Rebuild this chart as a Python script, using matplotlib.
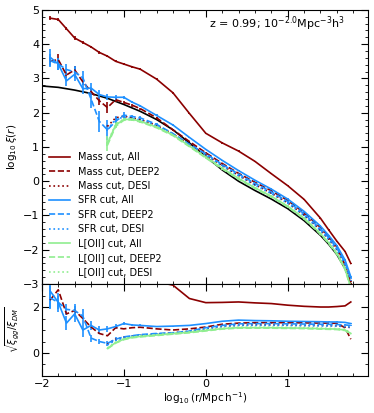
import numpy as np
import matplotlib
matplotlib.use("Agg")
import matplotlib.pyplot as plt
from matplotlib.lines import Line2D
from matplotlib.ticker import AutoMinorLocator, MultipleLocator

nan = np.nan

# matter correlation function (black)
dm_x = [-2.0, -1.8, -1.6, -1.4, -1.2, -1.0, -0.8, -0.6, -0.4, -0.2, 0.0, 0.2, 0.4,
        0.6, 0.8, 1.0, 1.2, 1.4, 1.5, 1.6, 1.7, 1.77]
dm_y = [2.78, 2.74, 2.66, 2.56, 2.42, 2.24, 2.04, 1.80, 1.50, 1.12, 0.72, 0.33, 0.00,
        -0.27, -0.52, -0.80, -1.15, -1.58, -1.84, -2.14, -2.55, -3.00]

# bin centres for the galaxy samples
gx = [-1.9, -1.8, -1.7, -1.6, -1.5, -1.4, -1.3, -1.2, -1.1, -1.0, -0.9, -0.8, -0.6,
      -0.4, -0.2, 0.0, 0.2, 0.4, 0.6, 0.8, 1.0, 1.2, 1.4, 1.5, 1.6, 1.7, 1.77]

# log10 xi(r), top panel
mass_all = [4.76, 4.72, 4.45, 4.18, 4.05, 3.92, 3.76, 3.65, 3.50, 3.42, 3.34, 3.27, 2.98,
            2.58, 1.98, 1.40, 1.12, 0.88, 0.58, 0.22, -0.13, -0.53, -1.08, -1.42, -1.75, -2.05, -2.40]
mass_deep2 = [3.50, 3.55, 3.10, 3.25, 2.90, 2.62, 2.35, 2.15, 2.38, 2.30, 2.22, 2.12, 1.85,
              1.50, 1.16, 0.83, 0.52, 0.23, -0.03, -0.28, -0.56, -0.92, -1.35, -1.61, -1.92, -2.45, -3.00]
mass_desi = [nan, nan, nan, nan, nan, nan, nan, 1.60, 1.85, 1.90, 1.85, 1.80, 1.63,
             1.38, 1.08, 0.77, 0.46, 0.17, -0.10, -0.35, -0.63, -0.99, -1.42, -1.69, -1.99, -2.43, -2.92]
sfr_all = [3.62, 3.42, 2.93, 3.12, 2.70, 2.72, 2.53, 2.46, 2.45, 2.45, 2.31, 2.20, 1.92,
           1.64, 1.28, 0.93, 0.61, 0.31, 0.03, -0.23, -0.52, -0.88, -1.31, -1.58, -1.88, -2.30, -2.79]
sfr_deep2 = [3.52, 3.42, 3.26, 3.19, 3.02, 2.40, 1.75, 1.50, 1.75, 1.93, 1.89, 1.85, 1.66,
             1.39, 1.08, 0.80, 0.49, 0.21, -0.06, -0.31, -0.59, -0.95, -1.39, -1.65, -1.95, -2.38, -2.84]
sfr_desi = [nan, nan, nan, nan, nan, nan, nan, 1.51, 1.81, 1.87, 1.83, 1.79, 1.61,
            1.36, 1.06, 0.76, 0.45, 0.16, -0.11, -0.36, -0.64, -1.00, -1.44, -1.70, -2.00, -2.43, -2.90]
oii_all = [nan, nan, nan, nan, nan, nan, nan, 1.10, 1.64, 1.80, 1.81, 1.75, 1.58,
           1.35, 1.03, 0.70, 0.38, 0.08, -0.19, -0.44, -0.73, -1.08, -1.53, -1.80, -2.11, -2.55, -3.10]
oii_deep2 = [nan, nan, nan, nan, nan, nan, nan, 1.05, 1.60, 1.78, 1.79, 1.73, 1.56,
             1.33, 1.01, 0.68, 0.36, 0.06, -0.21, -0.46, -0.75, -1.10, -1.55, -1.82, -2.13, -2.58, -3.12]
oii_desi = [nan, nan, nan, nan, nan, nan, nan, 1.12, 1.66, 1.82, 1.82, 1.76, 1.59,
            1.36, 1.04, 0.71, 0.39, 0.09, -0.18, -0.43, -0.72, -1.07, -1.52, -1.79, -2.10, -2.54, -3.08]

# error bars, top panel
err_small = [0.06, 0.05, 0.05, 0.05, 0.04, 0.04, 0.04, 0.03, 0.03, 0.03, 0.03, 0.03, 0.02,
             0.02, 0.02, 0.02, 0.02, 0.02, 0.02, 0.02, 0.02, 0.02, 0.02, 0.02, 0.02, 0.02, 0.02]
err_sfr = [0.25, 0.18, 0.14, 0.2, 0.16, 0.14, 0.13, 0.1, 0.07, 0.05, 0.04, 0.03, 0.03,
           0.02, 0.02, 0.02, 0.02, 0.02, 0.02, 0.02, 0.02, 0.02, 0.02, 0.02, 0.02, 0.02, 0.02]
err_sfr2 = [0.2, 0.16, 0.15, 0.18, 0.2, 0.25, 0.3, 0.3, 0.15, 0.08, 0.05, 0.04, 0.03,
            0.02, 0.02, 0.02, 0.02, 0.02, 0.02, 0.02, 0.02, 0.02, 0.02, 0.02, 0.02, 0.02, 0.02]
err_mass2 = [0.12, 0.15, 0.1, 0.1, 0.1, 0.1, 0.12, 0.15, 0.08, 0.05, 0.04, 0.03, 0.03,
             0.02, 0.02, 0.02, 0.02, 0.02, 0.02, 0.02, 0.02, 0.02, 0.02, 0.02, 0.02, 0.02, 0.02]
err_oii = [nan, nan, nan, nan, nan, nan, nan, 0.22, 0.08, 0.05, 0.04, 0.03, 0.03,
           0.02, 0.02, 0.02, 0.02, 0.02, 0.02, 0.02, 0.02, 0.02, 0.02, 0.02, 0.02, 0.02, 0.02]

# sqrt(xi_gg / xi_DM), bottom panel
b_mass_all = [4.5, 4.4, 4.2, 4.0, 3.9, 3.8, 3.7, 3.6, 3.5, 3.4, 3.3, 3.2, 3.1,
              2.95, 2.37, 2.19, 2.2, 2.22, 2.18, 2.15, 2.08, 2.03, 2.0, 2.0, 2.02, 2.05, 2.22]
b_mass_deep2 = [2.3, 2.75, 1.7, 1.85, 1.5, 1.13, 0.85, 0.75, 1.1, 1.05, 1.1, 1.12, 1.05,
                1.0, 1.05, 1.13, 1.25, 1.3, 1.32, 1.32, 1.32, 1.31, 1.3, 1.3, 1.29, 1.1, 0.6]
b_mass_desi = [nan, nan, nan, nan, nan, nan, nan, 0.4, 0.6, 0.68, 0.72, 0.76, 0.82,
               0.87, 0.95, 1.06, 1.16, 1.21, 1.22, 1.22, 1.21, 1.2, 1.2, 1.19, 1.18, 1.15, 1.1]
b_sfr_all = [2.7, 2.2, 1.3, 1.7, 1.0, 1.2, 1.0, 1.05, 1.15, 1.28, 1.22, 1.2, 1.15,
             1.17, 1.2, 1.28, 1.38, 1.43, 1.41, 1.4, 1.38, 1.37, 1.36, 1.35, 1.35, 1.33, 1.28]
b_sfr_deep2 = [2.4, 2.2, 1.9, 1.85, 1.6, 0.65, 0.5, 0.42, 0.6, 0.7, 0.75, 0.8, 0.85,
               0.88, 0.95, 1.1, 1.2, 1.27, 1.28, 1.28, 1.27, 1.26, 1.25, 1.25, 1.24, 1.22, 1.2]
b_sfr_desi = [nan, nan, nan, nan, nan, nan, nan, 0.35, 0.55, 0.65, 0.7, 0.75, 0.8,
              0.85, 0.93, 1.05, 1.15, 1.2, 1.2, 1.2, 1.2, 1.19, 1.18, 1.18, 1.17, 1.15, 1.12]
b_oii_all = [nan, nan, nan, nan, nan, nan, nan, 0.2, 0.45, 0.6, 0.68, 0.72, 0.78,
             0.84, 0.9, 0.98, 1.06, 1.1, 1.1, 1.1, 1.09, 1.08, 1.06, 1.05, 1.04, 1.0, 0.85]
b_oii_deep2 = [nan, nan, nan, nan, nan, nan, nan, 0.18, 0.43, 0.58, 0.66, 0.7, 0.76,
               0.82, 0.88, 0.96, 1.04, 1.08, 1.08, 1.08, 1.07, 1.06, 1.04, 1.03, 1.02, 0.98, 0.82]
b_oii_desi = [nan, nan, nan, nan, nan, nan, nan, 0.22, 0.47, 0.62, 0.7, 0.74, 0.8,
              0.86, 0.92, 1.0, 1.08, 1.12, 1.12, 1.12, 1.11, 1.1, 1.08, 1.07, 1.06, 1.02, 0.88]

# error bars, bottom panel
berr_sfr = [0.75, 0.4, 0.3, 0.35, 0.3, 0.2, 0.18, 0.12, 0.1, 0.08, 0.05, 0.04, 0.03,
            0.02, 0.02, 0.02, 0.02, 0.02, 0.02, 0.02, 0.02, 0.02, 0.02, 0.02, 0.02, 0.02, 0.02]
berr_sfr2 = [0.5, 0.3, 0.25, 0.3, 0.3, 0.15, 0.12, 0.1, 0.08, 0.05, 0.04, 0.03, 0.03,
             0.02, 0.02, 0.02, 0.02, 0.02, 0.02, 0.02, 0.02, 0.02, 0.02, 0.02, 0.02, 0.02, 0.02]

red = "#8b0000"
blue = "#1e90ff"
green = "#90ee90"

plt.rcParams['font.family'] = 'DejaVu Sans'
plt.rcParams['xtick.direction'] = 'in'
plt.rcParams['ytick.direction'] = 'in'

fig = plt.figure(figsize=(3.74, 4.13), dpi=100)
ax1 = fig.add_axes([0.112, 0.3123, 0.872, 0.6637])
ax2 = fig.add_axes([0.112, 0.0896, 0.872, 0.2227], sharex=ax1)

lw = 1.2
ax1.plot(dm_x, dm_y, color='black', lw=lw)

top_series = [
    (mass_all, err_small, red, '-', 'Mass cut, All'),
    (mass_deep2, err_mass2, red, '--', 'Mass cut, DEEP2'),
    (mass_desi, err_small, red, ':', 'Mass cut, DESI'),
    (sfr_all, err_sfr, blue, '-', 'SFR cut, All'),
    (sfr_deep2, err_sfr2, blue, '--', 'SFR cut, DEEP2'),
    (sfr_desi, err_small, blue, ':', 'SFR cut, DESI'),
    (oii_all, err_oii, green, '-', 'L[OII] cut, All'),
    (oii_deep2, err_small, green, '--', 'L[OII] cut, DEEP2'),
    (oii_desi, err_small, green, ':', 'L[OII] cut, DESI'),
]
handles = []
for y, e, c, ls, lab in top_series:
    ax1.errorbar(gx, y, yerr=e, color=c, ls=ls, lw=lw, elinewidth=lw)
    handles.append(Line2D([], [], color=c, ls=ls, lw=lw, label=lab))

bottom_series = [
    (b_mass_all, None, red, '-'),
    (b_mass_deep2, None, red, '--'),
    (b_mass_desi, None, red, ':'),
    (b_sfr_all, berr_sfr, blue, '-'),
    (b_sfr_deep2, berr_sfr2, blue, '--'),
    (b_sfr_desi, None, blue, ':'),
    (b_oii_all, None, green, '-'),
    (b_oii_deep2, None, green, '--'),
    (b_oii_desi, None, green, ':'),
]
for y, e, c, ls in bottom_series:
    ax2.errorbar(gx, y, yerr=e, color=c, ls=ls, lw=lw, elinewidth=lw)

ax1.set_xlim(-2, 1.98)
ax1.set_ylim(-3, 5)
ax2.set_ylim(-1, 3)
ax1.xaxis.set_major_locator(MultipleLocator(1))
ax1.yaxis.set_major_locator(MultipleLocator(1))
ax2.yaxis.set_major_locator(MultipleLocator(2))

for ax in (ax1, ax2):
    ax.xaxis.set_minor_locator(AutoMinorLocator())
    ax.yaxis.set_minor_locator(AutoMinorLocator())
    ax.tick_params(which='both', top=True, right=True, labelsize=8, pad=2)
    ax.tick_params(which='major', length=5)
    ax.tick_params(which='minor', length=2.5)
ax1.tick_params(labelbottom=False)

ax1.set_ylabel(r'$\log_{10}\xi(r)$', fontsize=7.5)
ax2.set_ylabel(r'$\sqrt{\xi_{gg}/\xi_{DM}}$', fontsize=7)
ax2.set_xlabel(r'$\log_{10}(\mathrm{r/Mpc\,h^{-1}})$', fontsize=7.5, labelpad=1)
ax1.yaxis.set_label_coords(-0.07, 0.5)
ax2.yaxis.set_label_coords(-0.06, 0.5)

ax1.text(0.93, 0.95, r'z = 0.99; 10$^{-2.0}$Mpc$^{-3}$h$^{3}$', transform=ax1.transAxes,
         ha='right', va='center', fontsize=8)

ax1.legend(handles=handles, loc='lower left', frameon=False, fontsize=7,
           handlelength=2.2, labelspacing=0.45, borderaxespad=0.3)

fig.savefig('out.png', dpi=100)
